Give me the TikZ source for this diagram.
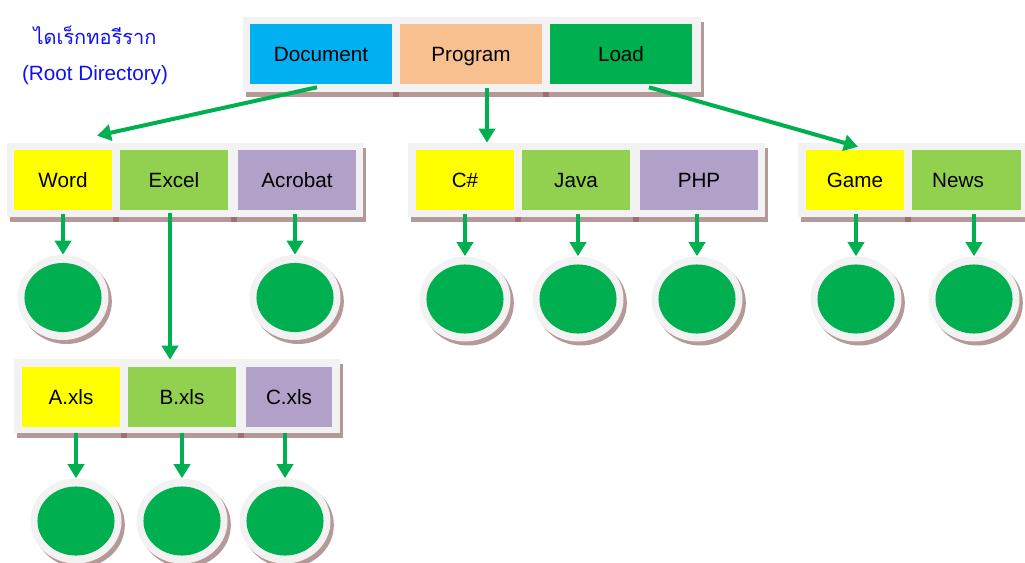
\documentclass[tikz,border=0pt]{standalone}
\usepackage{fontspec}
\setmainfont{Liberation Sans}
\newfontfamily\thaifont[Script=Thai]{Loma}
\usetikzlibrary{arrows.meta,shapes.geometric,shadows,calc}

\definecolor{docblue}{HTML}{00B0F0}
\definecolor{progorange}{HTML}{F9C08F}
\definecolor{loadgreen}{HTML}{00B050}
\definecolor{fileyellow}{HTML}{FFFF00}
\definecolor{filegreen}{HTML}{92D050}
\definecolor{filepurple}{HTML}{B1A0C7}
\definecolor{panelgray}{HTML}{F2F2F2}
\definecolor{shadowc}{HTML}{B59898}
\definecolor{sepc}{HTML}{9E7070}
\definecolor{labelblue}{HTML}{1010F5}

\tikzset{
  panel/.style={rectangle, fill=panelgray, inner sep=0pt, minimum height=55.5pt,
    drop shadow={fill=shadowc, opacity=1, shadow xshift=2.5pt, shadow yshift=-4pt}},
  item/.style={rectangle, inner sep=0pt, minimum height=45pt, text height=11pt, text depth=0pt,
    font=\fontsize{15.5pt}{18pt}\selectfont},
  leaf/.style={ellipse, fill=panelgray, inner sep=0pt, minimum width=68.25pt, minimum height=63.75pt,
    drop shadow={fill=shadowc, opacity=1, shadow xshift=2.5pt, shadow yshift=-3pt},
    path picture={\fill[loadgreen] (path picture bounding box.center) ellipse (28.9pt and 25.9pt);}},
  arr/.style={draw=loadgreen, line width=3pt, -{Triangle[width=12pt,length=10.5pt]}},
  sep/.style={fill=sepc},
}

\begin{document}
\begin{tikzpicture}[x=0.75pt,y=-0.75pt]
\useasboundingbox (0,0) rectangle (1025,563);
\begin{scope}
\clip (0,0) rectangle (1025,563);

% root label
\node[text=labelblue, font=\thaifont\fontsize{15pt}{18pt}\selectfont] (thai) at (95,35) {ไดเร็กทอรีราก};
\node[text=labelblue, font=\fontsize{15.5pt}{18pt}\selectfont] (rootlbl) at (95,75) {(Root Directory)};

% root directory
\node[panel, minimum width=343.5pt, minimum height=56.25pt] (ptop) at (472,54.5) {};
\fill[sep] (393,92) rectangle (399,97);
\fill[sep] (543,92) rectangle (549,97);
\node[item, fill=docblue, minimum width=106.5pt] (doc) at (321,54) {Document};
\node[item, fill=progorange, minimum width=106.5pt] (prog) at (471,54) {Program};
\node[item, fill=loadgreen, minimum width=106.5pt] (load) at (621,54) {Load};

% Document folder
\node[panel, minimum width=267pt] (pdoc) at (185,180) {};
\fill[sep] (113,217) rectangle (119,222);
\fill[sep] (231,217) rectangle (237,222);
\node[item, fill=fileyellow, minimum width=73.5pt] (word) at (63,180) {Word};
\node[item, fill=filegreen, minimum width=81pt] (excel) at (174,180) {Excel};
\node[item, fill=filepurple, minimum width=88.5pt] (acrobat) at (297,180) {Acrobat};

% Program folder
\node[panel, minimum width=267.75pt] (pprog) at (586.5,180) {};
\fill[sep] (515,217) rectangle (521,222);
\fill[sep] (633,217) rectangle (639,222);
\node[item, fill=fileyellow, minimum width=73.5pt] (cs) at (465,180) {C\#};
\node[item, fill=filegreen, minimum width=81pt] (java) at (576,180) {Java};
\node[item, fill=filepurple, minimum width=88.5pt] (php) at (699,180) {PHP};

% Load folder
\node[panel, minimum width=181.5pt] (pload) at (919,180) {};
\fill[sep] (905,217) rectangle (911,222);
\node[item, fill=fileyellow, minimum width=73.5pt] (game) at (855,180) {Game};
\node[item, fill=filegreen, minimum width=81.75pt] (news) at (966.5,180) {\hspace*{-12.75pt}News};

% Excel folder
\node[panel, minimum width=244.5pt] (pexcel) at (177,396) {};
\fill[sep] (121,433) rectangle (127,438);
\fill[sep] (238,433) rectangle (244,438);
\node[item, fill=fileyellow, minimum width=73.5pt] (axls) at (71,397) {A.xls};
\node[item, fill=filegreen, minimum width=81pt] (bxls) at (182,397) {B.xls};
\node[item, fill=filepurple, minimum width=64.5pt] (cxls) at (289,397) {C.xls};

% files
\node[leaf] (lword) at (63,297.5) {};
\node[leaf] (lacrobat) at (295,297.5) {};
\node[leaf] (lcs) at (465,299) {};
\node[leaf] (ljava) at (578,299) {};
\node[leaf] (lphp) at (697,299) {};
\node[leaf] (lgame) at (856,299) {};
\node[leaf] (lnews) at (974,299) {};
\node[leaf] (la) at (76,521) {};
\node[leaf] (lb) at (182,521) {};
\node[leaf] (lc) at (285,521) {};

% connectors
\draw[arr] ([shift={(-4,3)}]doc.south) -- ([shift={(-88,-7)}]pdoc.north);
\draw[arr] ([shift={(16,4)}]prog.south) -- ([xshift=12pt]prog.south |- pprog.north);
\draw[arr] ([shift={(28,3)}]load.south) -- ([shift={(3,-3)}]game.north);

\draw[arr] ([yshift=-3pt]lword.north |- word.south) -- (lword.north);
\draw[arr] ([yshift=-3pt]lacrobat.north |- acrobat.south) -- (lacrobat.north);
\draw[arr] ([yshift=-3pt]lcs.north |- cs.south) -- (lcs.north);
\draw[arr] ([yshift=-3pt]ljava.north |- java.south) -- (ljava.north);
\draw[arr] ([yshift=-3pt]lphp.north |- php.south) -- (lphp.north);
\draw[arr] ([yshift=-3pt]lgame.north |- game.south) -- (lgame.north);
\draw[arr] ([yshift=-3pt]lnews.north |- news.south) -- (lnews.north);
\draw[arr] ([shift={(-4,3)}]excel.south) -- ([shift={(-4,1)}]excel.south |- pexcel.north);
\draw[arr] ([yshift=-4pt]la.north |- axls.south) -- (la.north);
\draw[arr] ([yshift=-4pt]lb.north |- bxls.south) -- (lb.north);
\draw[arr] ([yshift=-4pt]lc.north |- cxls.south) -- (lc.north);
\end{scope}
\end{tikzpicture}
\end{document}
